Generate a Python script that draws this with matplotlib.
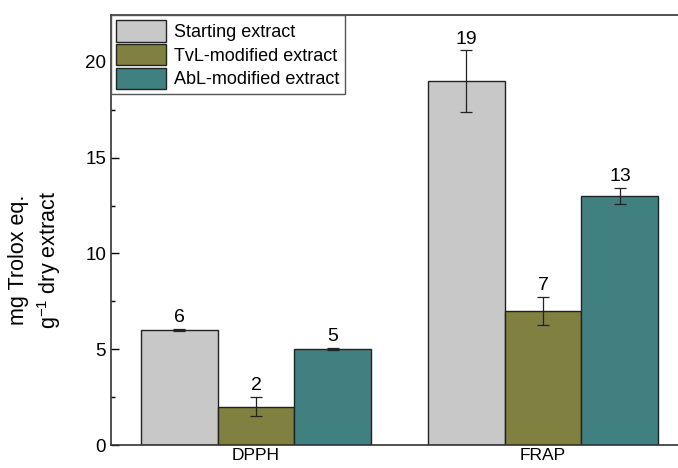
import numpy as np
import matplotlib.pyplot as plt
from matplotlib.ticker import MultipleLocator

plt.rcParams['font.family'] = ['Liberation Sans', 'DejaVu Sans']
plt.rcParams['mathtext.default'] = 'regular'

# datos
assays = ['DPPH', 'FRAP']
series = ['Starting extract', 'TvL-modified extract', 'AbL-modified extract']
starting = [6, 19]
tvl = [2, 7]
abl = [5, 13]
starting_err = [0.05, 1.6]
tvl_err = [0.5, 0.75]
abl_err = [0.06, 0.4]
colors = ['#C8C8C8', '#808040', '#408080']

values = [starting, tvl, abl]
errors = [starting_err, tvl_err, abl_err]

fig = plt.figure(figsize=(6.78, 4.68), dpi=100)
ax = fig.add_axes([111 / 678, 23 / 468, 577 / 678, 430 / 468])

x = np.arange(len(assays))
w = 0.268
for i in range(3):
    pos = x + (i - 1) * w
    ax.bar(pos, values[i], w, color=colors[i], edgecolor='#222222', linewidth=1.0,
           label=series[i], zorder=2)
    ax.errorbar(pos, values[i], yerr=errors[i], fmt='none', ecolor='#222222',
                elinewidth=0.9, capsize=4, capthick=0.9, zorder=3)
    for p, v, e in zip(pos, values[i], errors[i]):
        ax.text(p, v + e + 0.15, str(v), ha='center', va='bottom', fontsize=14)

ax.set_xlim(-0.505, 1.505)
ax.set_ylim(0, 22.45)
ax.set_xticks(x)
ax.set_xticklabels(assays, fontsize=12.5)
ax.tick_params(axis='x', length=0, pad=2)
ax.yaxis.set_major_locator(MultipleLocator(5))
ax.yaxis.set_minor_locator(MultipleLocator(2.5))
ax.tick_params(axis='y', which='major', direction='in', length=6, labelsize=13.5, width=1)
ax.tick_params(axis='y', which='minor', direction='in', length=3, width=1)
for s in ax.spines.values():
    s.set_linewidth(1.2)
    s.set_color('#333333')

ax.set_ylabel('mg Trolox eq.\ng$^{-1}$ dry extract', fontsize=15.5, linespacing=1.3)
ax.yaxis.set_label_coords(-0.083, 0.43)

leg = ax.legend(loc='upper left', bbox_to_anchor=(0, 1), fontsize=13,
                fancybox=False, edgecolor='#555555', framealpha=1,
                handlelength=2.75, handleheight=1.45, borderpad=0.3,
                labelspacing=0.12, handletextpad=0.45, borderaxespad=0)
leg.get_frame().set_linewidth(1.0)

plt.savefig('out.png', dpi=100)
